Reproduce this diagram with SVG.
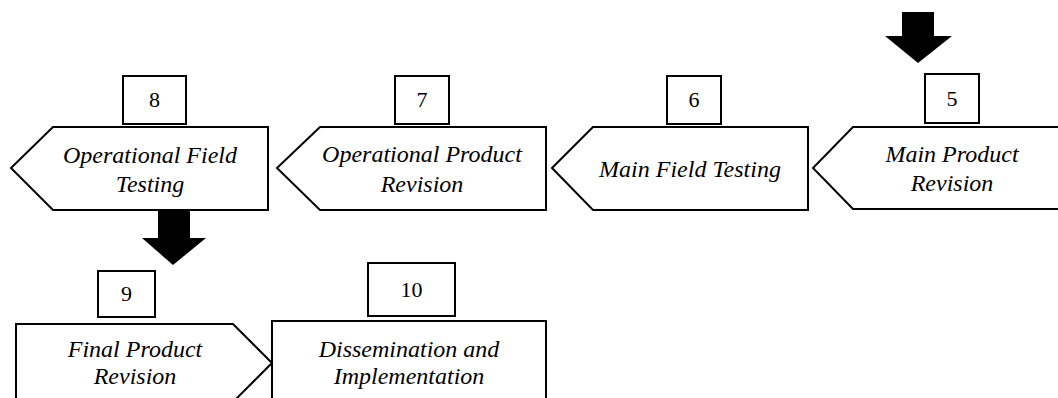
<svg xmlns="http://www.w3.org/2000/svg" width="1058" height="398" viewBox="0 0 1058 398">
<style>
.shape{fill:#fff;stroke:#000;stroke-width:2;stroke-linejoin:miter}
.num{font-family:"Liberation Serif","Times New Roman",serif;font-size:22px;text-anchor:middle;fill:#000}
.lbl{font-family:"Liberation Serif","Times New Roman",serif;font-size:24px;font-style:italic;text-anchor:middle;fill:#000}
.arr{fill:#000;stroke:none}
</style>
<rect width="1058" height="398" fill="#fff"/>
<g id="connectors">
<polygon class="arr" points="902,12 934,12 934,36 952,36 918,63 885,36 902,36"/>
<polygon class="arr" points="158,211 190,211 190,238 206,238 173,265 142,238 158,238"/>
</g>
<g id="node5">
<polygon class="shape" points="853,127 1072,127 1072,209 853,209 813,168"/>
<rect class="shape" x="925" y="74" width="54" height="49"/>
<text class="num" x="952" y="106">5</text>
<text class="lbl" x="952" y="162">Main Product</text>
<text class="lbl" x="952" y="191">Revision</text>
</g>
<g id="node6">
<polygon class="shape" points="593,127 808,127 808,210 593,210 552,168"/>
<rect class="shape" x="667" y="76" width="54" height="48"/>
<text class="num" x="694" y="107">6</text>
<text class="lbl" x="690" y="177">Main Field Testing</text>
</g>
<g id="node7">
<polygon class="shape" points="320,127 546,127 546,210 320,210 277,168"/>
<rect class="shape" x="395" y="76" width="54" height="48"/>
<text class="num" x="422" y="107">7</text>
<text class="lbl" x="422" y="162">Operational Product</text>
<text class="lbl" x="422" y="192">Revision</text>
</g>
<g id="node8">
<polygon class="shape" points="53,127 268,127 268,210 53,210 11,168"/>
<rect class="shape" x="123" y="76" width="63" height="48"/>
<text class="num" x="154.5" y="107">8</text>
<text class="lbl" x="150" y="163">Operational Field</text>
<text class="lbl" x="150" y="192">Testing</text>
</g>
<g id="node9">
<polygon class="shape" points="16,324 233,324 272,363 233,402 16,402"/>
<rect class="shape" x="98" y="271" width="57" height="46"/>
<text class="num" x="126.5" y="301">9</text>
<text class="lbl" x="135" y="357">Final Product</text>
<text class="lbl" x="135" y="384">Revision</text>
</g>
<g id="node10">
<rect class="shape" x="272" y="321" width="274" height="90"/>
<rect class="shape" x="368" y="263" width="87" height="53"/>
<text class="num" x="411.5" y="297">10</text>
<text class="lbl" x="409" y="357">Dissemination and</text>
<text class="lbl" x="409" y="384">Implementation</text>
</g>
</svg>
